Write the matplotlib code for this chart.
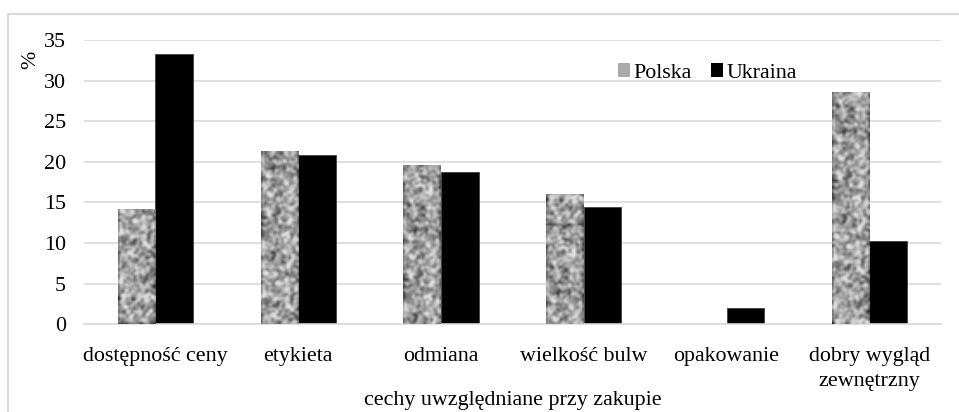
#!/usr/bin/env python3
import numpy as np
import matplotlib
matplotlib.use("Agg")
import matplotlib.pyplot as plt
from matplotlib.patches import Rectangle, Patch

categories = ["dostępność ceny", "etykieta", "odmiana", "wielkość bulw",
              "opakowanie", "dobry wygląd\nzewnętrzny"]
polska = [14.2, 21.3, 19.6, 16.1, 0.0, 28.6]
ukraina = [33.3, 20.8, 18.7, 14.5, 2.0, 10.3]
yticks = [0, 5, 10, 15, 20, 25, 30, 35]

plt.rcParams['font.family'] = ['Liberation Serif', 'DejaVu Serif']
plt.rcParams['font.size'] = 15.8

fig = plt.figure(figsize=(9.59, 4.12), dpi=100)
ax = fig.add_axes([0.0876, 0.2129, 0.8934, 0.69])

# outer chart frame (light gray)
fig.patches.append(Rectangle((8 / 959, -0.05), 1.0, 1 - 14 / 412 + 0.05,
                             transform=fig.transFigure, fill=False,
                             edgecolor="#d9d9d9", lw=1.5, zorder=0))

# granite-like texture for Polska bars
rng = np.random.default_rng(7)
noise = rng.random((170, 22))
k = np.array([0.25, 0.5, 0.25])
noise = np.apply_along_axis(lambda r: np.convolve(r, k, mode="same"), 0, noise)
noise = np.apply_along_axis(lambda r: np.convolve(r, k, mode="same"), 1, noise)
noise = (noise - noise.min()) / (noise.max() - noise.min())
tex = np.clip(0.12 + 0.85 * noise ** 0.85, 0, 0.88)

x = np.arange(len(categories))
w = 0.263
bars_p = ax.bar(x - w / 2, polska, w, color="#b0b0b0", zorder=2)
bars_u = ax.bar(x + w / 2, ukraina, w, color="black", edgecolor="#404040",
                lw=0.6, zorder=2)
for i, b in enumerate(bars_p):
    if b.get_height() <= 0:
        continue
    x0 = b.get_x()
    im = ax.imshow(np.roll(tex, i * 37, axis=0), cmap="gray", vmin=0, vmax=1,
                   aspect="auto", extent=[x0, x0 + b.get_width(), 0, 35],
                   zorder=3, interpolation="bilinear")
    im.set_clip_path(b)

ax.set_xlim(-0.5, len(categories) - 0.5)
ax.set_ylim(0, 35)
ax.set_yticks(yticks)
ax.set_xticks(x)
ax.set_xticklabels(categories, linespacing=1.45)
ax.tick_params(length=0, pad=13)
ax.tick_params(axis="x", pad=16)
ax.yaxis.grid(True, color="#d9d9d9", lw=1.2)
ax.set_axisbelow(True)
for s in ["top", "right", "left"]:
    ax.spines[s].set_visible(False)
ax.spines["bottom"].set_color("#d9d9d9")
ax.spines["bottom"].set_linewidth(1.2)

ax.set_xlabel("cechy uwzględniane przy zakupie", labelpad=0)
fig.text(31 / 959, 1 - 60 / 412, "%", rotation=90, ha="center", va="center")

handles = [Patch(facecolor="#aaaaaa", label="Polska"),
           Patch(facecolor="black", label="Ukraina")]
ax.legend(handles=handles, loc="upper left", bbox_to_anchor=(0.6, 0.987),
          ncol=2, frameon=False, handlelength=0.55, handleheight=0.55,
          handletextpad=0.15, columnspacing=0.9, fontsize=15.8)

fig.savefig("out.png", dpi=100)
